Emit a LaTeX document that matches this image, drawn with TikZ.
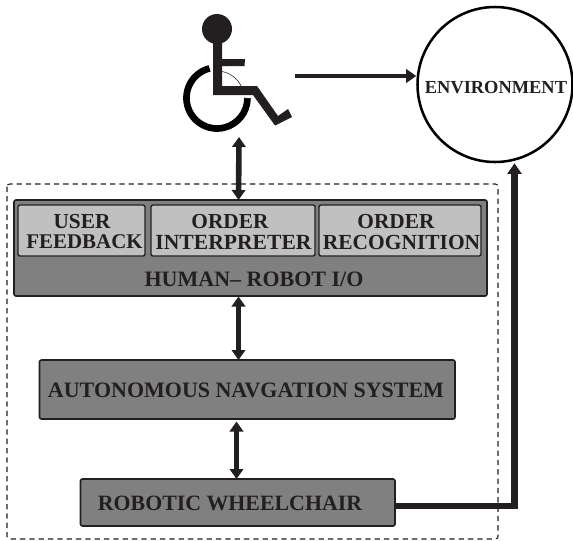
\documentclass[tikz,border=0pt]{standalone}
\usepackage{fontspec}
\setmainfont{Liberation Serif}
\usetikzlibrary{arrows.meta,positioning}
\definecolor{ink}{HTML}{231F20}
\definecolor{boxgray}{HTML}{808080}
\definecolor{subgray}{HTML}{C0C0C0}
\newcommand{\bx}[1]{\fontsize{#1}{#1}\bfseries\selectfont}
\begin{document}
\begin{tikzpicture}[x=0.75pt,y=-0.75pt,
  box/.style={draw=ink,line width=1.2pt,rounded corners=1.5pt,fill=boxgray},
  subbox/.style={draw=ink,line width=1pt,rounded corners=1.5pt,fill=subgray},
  lbl/.style={text=ink,inner sep=0pt,anchor=center},
  dbl/.style={draw=ink,line width=4.2pt,{Triangle[width=10pt,length=7.5pt]}-{Triangle[width=10pt,length=7.5pt]},shorten <=0pt,shorten >=0pt},
  sng/.style={draw=ink,line width=3.7pt,-{Triangle[width=10pt,length=7.5pt]}},
  fb/.style={draw=ink,line width=4.7pt,-{Triangle[width=10.5pt,length=8pt]}}
  ]
\useasboundingbox (0,0) rectangle (573,540);
\fill[white] (0,0) rectangle (573,540);
% dashed enclosure
\draw[ink,line width=0.8pt,dash pattern=on 4pt off 3pt,rounded corners=2pt] (7,184) rectangle (498,539);
% boxes
\draw[box] (14,200) rectangle (487,296);
\draw[subbox] (18,205) rectangle (145,256);
\draw[subbox] (151,205) rectangle (315,256);
\draw[subbox] (319,205) rectangle (481,256);
\draw[box] (39.5,360) rectangle (455,419);
\draw[box] (80.5,479) rectangle (395,526);
% named anchors
\coordinate (hritop) at (238.5,200);
\coordinate (hribot) at (238.5,296.5);
\coordinate (navtop) at (238.5,360);
\coordinate (navbot) at (236.5,421.5);
\coordinate (chairtop) at (236.5,479);
\coordinate (personbot) at (239,137);
\coordinate (personright) at (295,76);
\coordinate (chairright) at (395,506);
\coordinate (corner) at (514.5,506);
% labels
\node[lbl] (user) at (82,222) {\bx{16}USER};
\node[lbl] (feedback) at (84.5,242) {\bx{15.7}FEEDBACK};
\node[lbl] (order1) at (230,222) {\bx{16}ORDER};
\node[lbl] (interp) at (233.5,242) {\bx{16.2}INTERPRETER};
\node[lbl] (order2) at (396,222) {\bx{16}ORDER};
\node[lbl] (recog) at (401.5,242) {\bx{16.1}RECOGNITION};
\node[lbl] (hri) at (254,279) {\bx{16.5}HUMAN– ROBOT I/O};
\node[lbl] (nav) at (246,390) {\bx{16.5}AUTONOMOUS NAVGATION SYSTEM};
\node[lbl] (chair) at (230,503) {\bx{16.4}ROBOTIC WHEELCHAIR};
% environment
\node[circle,draw=black,line width=1.9pt,minimum size=155*0.75pt,inner sep=0pt] (env) at (495,84.5) {};
\node[lbl] (envlbl) at (496,88) {\bx{13.8}ENVIRONMENT};
% wheelchair symbol
\fill[ink] (217,29) circle (15);
\fill[ink] (213,35) -- (222,35) -- (222,59) -- (245,59) -- (244.5,66) -- (222,66) -- (222,86) -- (257,86) -- (278,116) -- (288,109) -- (292,117) -- (275,125.5) -- (253,95) -- (213,95) -- cycle;
\draw[black,line width=5pt] (209.6,68.4) arc[start angle=-104,end angle=-360,radius=30.5];
\draw[ink,line width=0.4pt] (213.7,71.2) arc[start angle=-97,end angle=-20,radius=27];
\draw[ink,line width=0.4pt] (244.5,98) -- (250,98);
% connectors
\draw[dbl] (personbot) -- (hritop);
\draw[dbl] (hribot) -- (navtop);
\draw[dbl] (navbot) -- (chairtop);
\draw[sng] (personright) -- (env.west |- personright);
\draw[fb] (chairright) -- (corner) -- (corner |- env.south);
\end{tikzpicture}
\end{document}
